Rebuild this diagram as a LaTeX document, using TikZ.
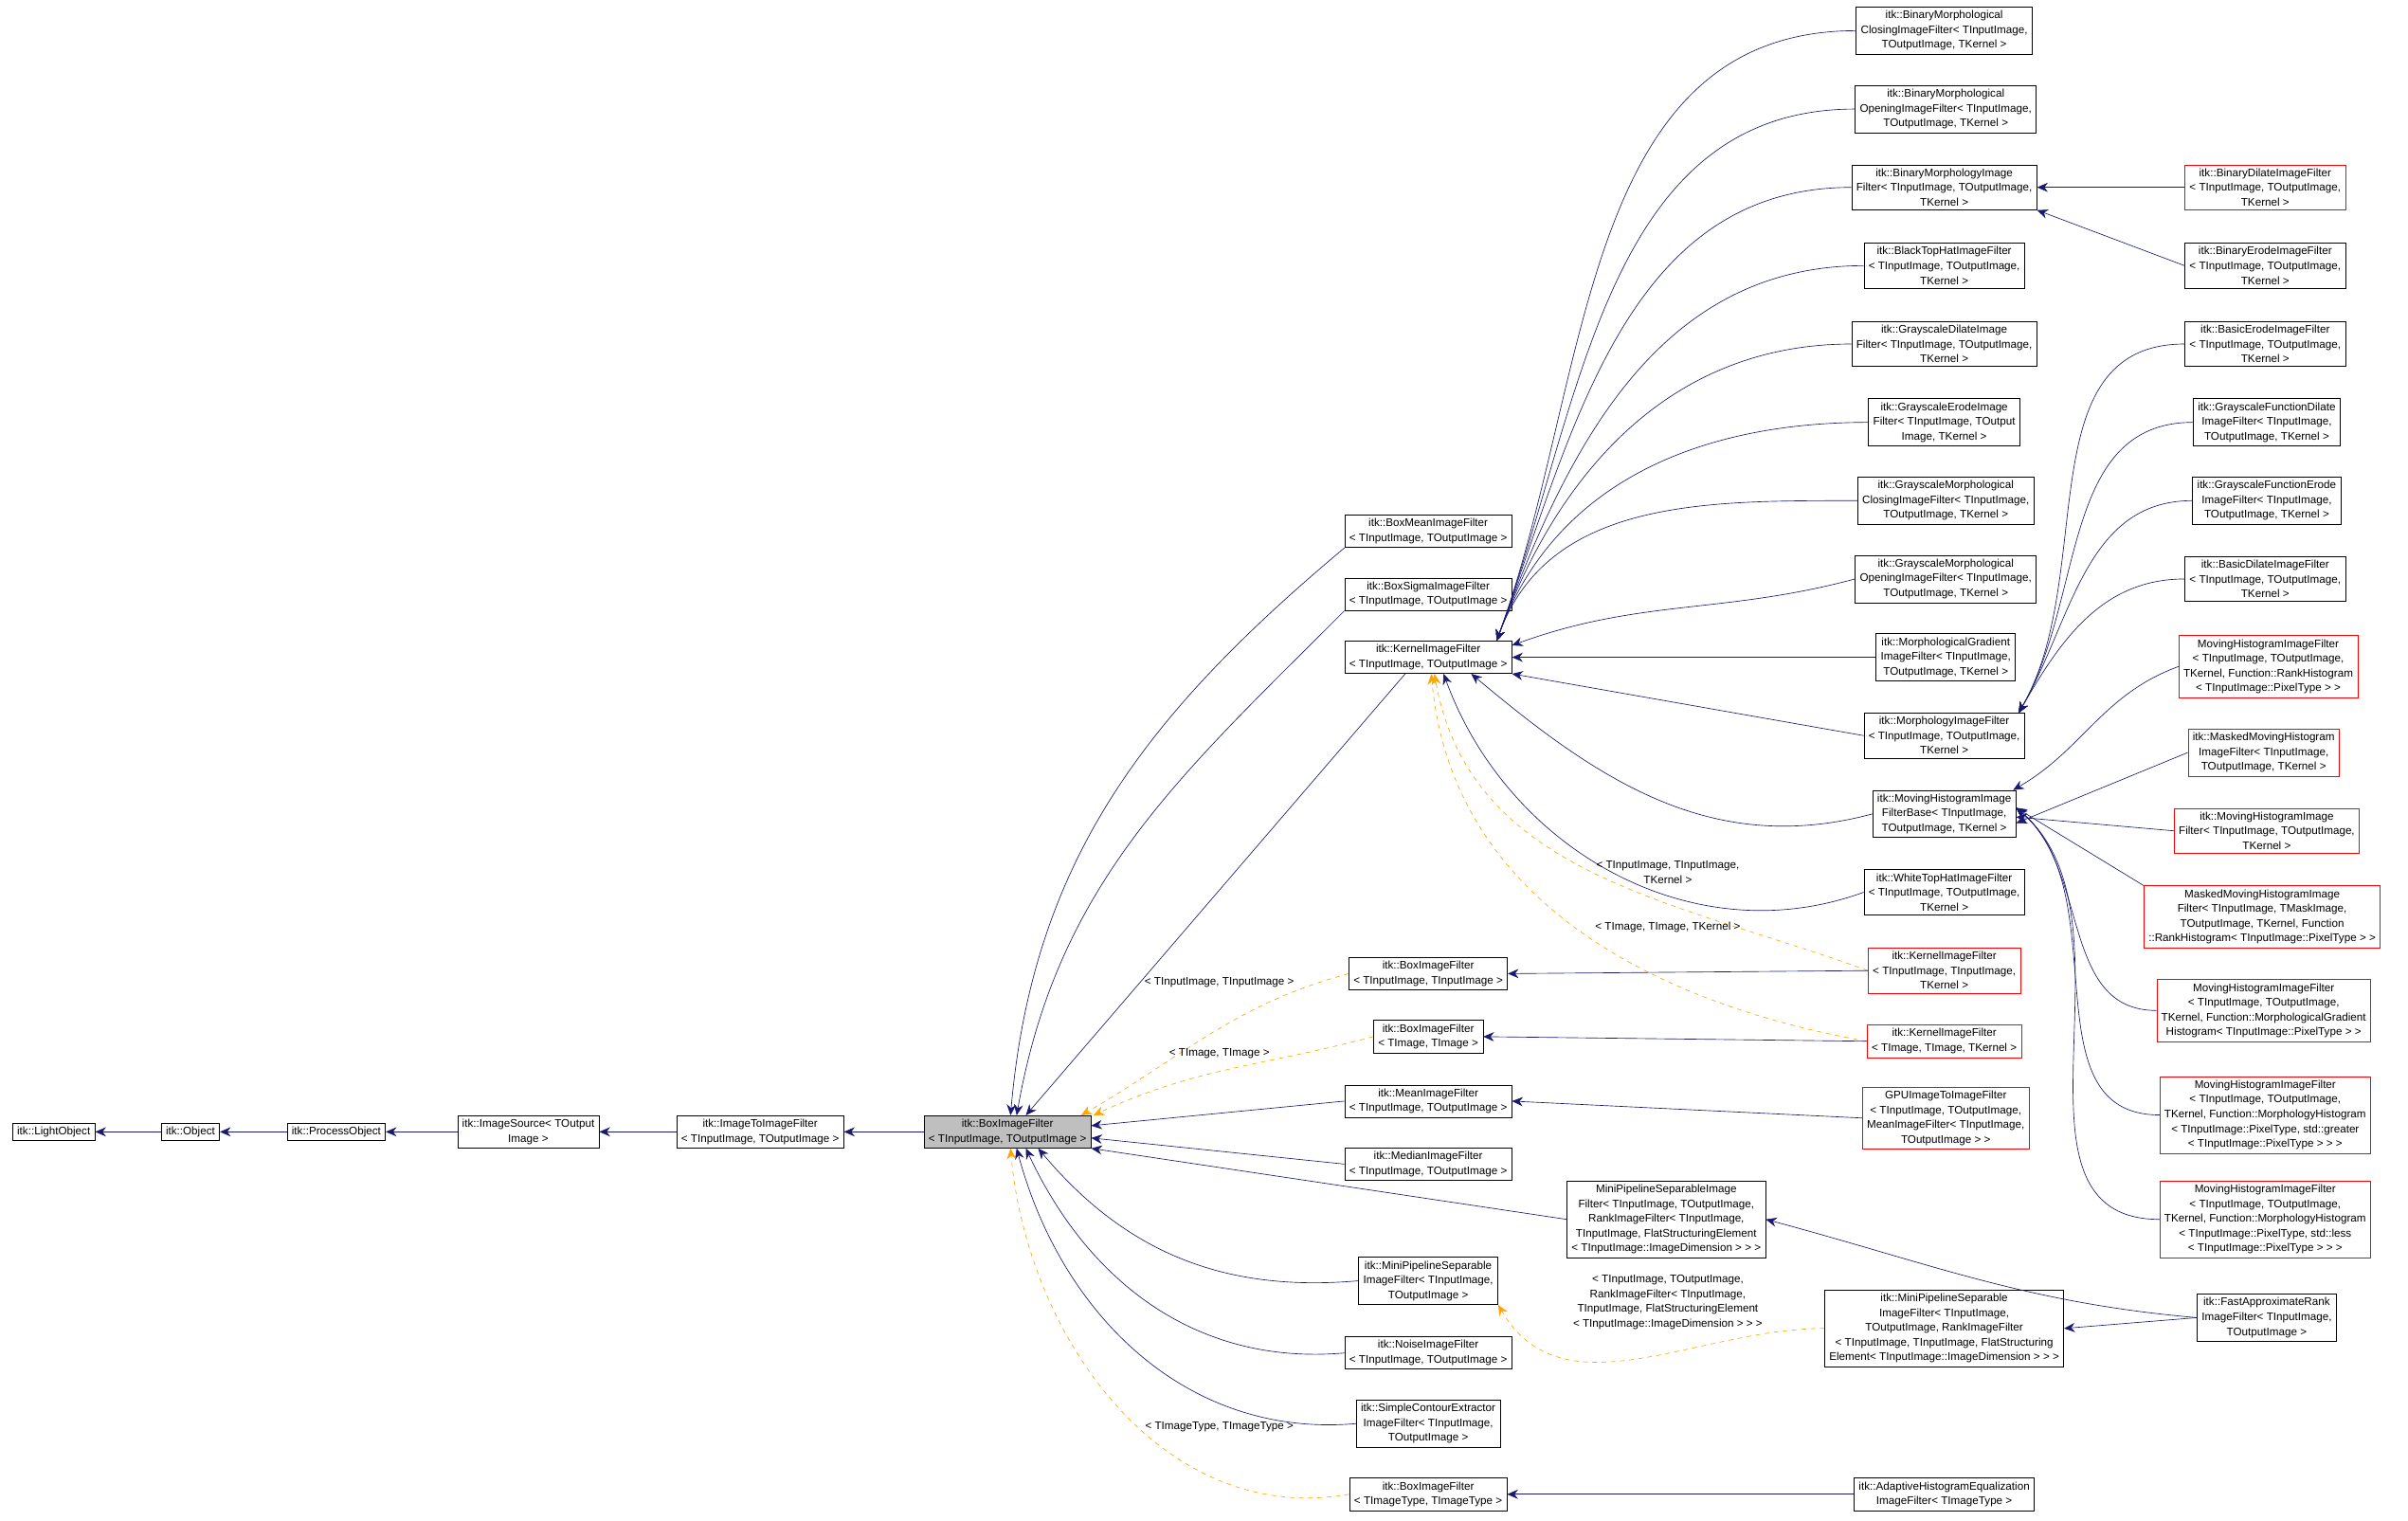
\documentclass[tikz,border=0pt]{standalone}
\usepackage{fontspec}
\setmainfont{Liberation Sans}
\usetikzlibrary{arrows.meta}
\definecolor{navy}{RGB}{25,25,112}
\definecolor{tplorange}{RGB}{255,165,0}
\definecolor{boxgray}{RGB}{191,191,191}

\tikzset{
  cls/.style={draw=black, fill=white, align=center, inner xsep=3pt, inner ysep=2.4pt,
    font=\fontsize{7.2}{9.6}\selectfont},
  extcls/.style={cls, draw=red},
  inh/.style={draw=navy, -{Stealth[length=7pt,width=6pt]}},
  tpl/.style={draw=tplorange, dashed, -{Stealth[length=7pt,width=6pt]}},
  tlabel/.style={font=\fontsize{7.2}{9.6}\selectfont, align=center}
}

\begin{document}
\begin{tikzpicture}[x=1pt,y=-1pt]
\useasboundingbox (0,0) rectangle (1568,990);

% Base chain
\node[cls] (light) at (35,737) {itk::LightObject};
\node[cls] (object) at (124,737) {itk::Object};
\node[cls] (process) at (219,737) {itk::ProcessObject};
\node[cls] (source) at (344,737) {itk::ImageSource\textless{} TOutput\\Image \textgreater};
\node[cls] (i2i) at (495,737) {itk::ImageToImageFilter\\\textless{} TInputImage, TOutputImage \textgreater};
\node[cls, fill=boxgray] (box) at (656,737) {itk::BoxImageFilter\\\textless{} TInputImage, TOutputImage \textgreater};

% Middle column
\node[cls] (boxmean) at (930,346) {itk::BoxMeanImageFilter\\\textless{} TInputImage, TOutputImage \textgreater};
\node[cls] (boxsigma) at (930,387) {itk::BoxSigmaImageFilter\\\textless{} TInputImage, TOutputImage \textgreater};
\node[cls] (kernel) at (930,428) {itk::KernelImageFilter\\\textless{} TInputImage, TOutputImage \textgreater};
\node[cls] (boxii) at (930,634) {itk::BoxImageFilter\\\textless{} TInputImage, TInputImage \textgreater};
\node[cls] (boxim) at (930,675) {itk::BoxImageFilter\\\textless{} TImage, TImage \textgreater};
\node[cls] (mean) at (930,717) {itk::MeanImageFilter\\\textless{} TInputImage, TOutputImage \textgreater};
\node[cls] (median) at (930,758) {itk::MedianImageFilter\\\textless{} TInputImage, TOutputImage \textgreater};
\node[cls] (minisep) at (930,834) {itk::MiniPipelineSeparable\\ImageFilter\textless{} TInputImage,\\TOutputImage \textgreater};
\node[cls] (noise) at (930,881) {itk::NoiseImageFilter\\\textless{} TInputImage, TOutputImage \textgreater};
\node[cls] (contour) at (930,927) {itk::SimpleContourExtractor\\ImageFilter\textless{} TInputImage,\\TOutputImage \textgreater};
\node[cls] (boxtt) at (930,973) {itk::BoxImageFilter\\\textless{} TImageType, TImageType \textgreater};

% Third column
\node[cls] (binclose) at (1266,20) {itk::BinaryMorphological\\ClosingImageFilter\textless{} TInputImage,\\TOutputImage, TKernel \textgreater};
\node[cls] (binopen) at (1267,71) {itk::BinaryMorphological\\OpeningImageFilter\textless{} TInputImage,\\TOutputImage, TKernel \textgreater};
\node[cls] (binmorph) at (1266,122) {itk::BinaryMorphologyImage\\Filter\textless{} TInputImage, TOutputImage,\\TKernel \textgreater};
\node[cls] (blacktop) at (1266,173) {itk::BlackTopHatImageFilter\\\textless{} TInputImage, TOutputImage,\\TKernel \textgreater};
\node[cls] (graydil) at (1266,224) {itk::GrayscaleDilateImage\\Filter\textless{} TInputImage, TOutputImage,\\TKernel \textgreater};
\node[cls] (grayero) at (1266,275) {itk::GrayscaleErodeImage\\Filter\textless{} TInputImage, TOutput\\Image, TKernel \textgreater};
\node[cls] (grayclose) at (1267,326) {itk::GrayscaleMorphological\\ClosingImageFilter\textless{} TInputImage,\\TOutputImage, TKernel \textgreater};
\node[cls] (grayopen) at (1267,377) {itk::GrayscaleMorphological\\OpeningImageFilter\textless{} TInputImage,\\TOutputImage, TKernel \textgreater};
\node[cls] (gradient) at (1267,428) {itk::MorphologicalGradient\\ImageFilter\textless{} TInputImage,\\TOutputImage, TKernel \textgreater};
\node[cls] (morph) at (1266,479) {itk::MorphologyImageFilter\\\textless{} TInputImage, TOutputImage,\\TKernel \textgreater};
\node[cls] (movbase) at (1266,530) {itk::MovingHistogramImage\\FilterBase\textless{} TInputImage,\\TOutputImage, TKernel \textgreater};
\node[cls] (whitetop) at (1266,581) {itk::WhiteTopHatImageFilter\\\textless{} TInputImage, TOutputImage,\\TKernel \textgreater};
\node[extcls] (kernelii) at (1266,632) {itk::KernelImageFilter\\\textless{} TInputImage, TInputImage,\\TKernel \textgreater};
\node[extcls] (kernelim) at (1266,678) {itk::KernelImageFilter\\\textless{} TImage, TImage, TKernel \textgreater};
\node[extcls] (gpu) at (1267,728) {GPUImageToImageFilter\\\textless{} TInputImage, TOutputImage,\\MeanImageFilter\textless{} TInputImage,\\TOutputImage \textgreater{} \textgreater};
\node[cls] (miniplain) at (1085,794) {MiniPipelineSeparableImage\\Filter\textless{} TInputImage, TOutputImage,\\RankImageFilter\textless{} TInputImage,\\TInputImage, FlatStructuringElement\\\textless{} TInputImage::ImageDimension \textgreater{} \textgreater{} \textgreater};
\node[cls] (minirank) at (1266,865) {itk::MiniPipelineSeparable\\ImageFilter\textless{} TInputImage,\\TOutputImage, RankImageFilter\\\textless{} TInputImage, TInputImage, FlatStructuring\\Element\textless{} TInputImage::ImageDimension \textgreater{} \textgreater{} \textgreater};
\node[cls] (adaptive) at (1266,973) {itk::AdaptiveHistogramEqualization\\ImageFilter\textless{} TImageType \textgreater};

% Right column
\node[extcls] (bindil) at (1475,122) {itk::BinaryDilateImageFilter\\\textless{} TInputImage, TOutputImage,\\TKernel \textgreater};
\node[cls] (binero) at (1475,173) {itk::BinaryErodeImageFilter\\\textless{} TInputImage, TOutputImage,\\TKernel \textgreater};
\node[cls] (basicero) at (1475,224) {itk::BasicErodeImageFilter\\\textless{} TInputImage, TOutputImage,\\TKernel \textgreater};
\node[cls] (funcdil) at (1476,275) {itk::GrayscaleFunctionDilate\\ImageFilter\textless{} TInputImage,\\TOutputImage, TKernel \textgreater};
\node[cls] (funcero) at (1476,326) {itk::GrayscaleFunctionErode\\ImageFilter\textless{} TInputImage,\\TOutputImage, TKernel \textgreater};
\node[cls] (basicdil) at (1475,377) {itk::BasicDilateImageFilter\\\textless{} TInputImage, TOutputImage,\\TKernel \textgreater};
\node[extcls] (movrank) at (1477,434) {MovingHistogramImageFilter\\\textless{} TInputImage, TOutputImage,\\TKernel, Function::RankHistogram\\\textless{} TInputImage::PixelType \textgreater{} \textgreater};
\node[extcls] (maskedmov) at (1474,490) {itk::MaskedMovingHistogram\\ImageFilter\textless{} TInputImage,\\TOutputImage, TKernel \textgreater};
\node[extcls] (movfilt) at (1476,541) {itk::MovingHistogramImage\\Filter\textless{} TInputImage, TOutputImage,\\TKernel \textgreater};
\node[extcls] (maskedrank) at (1473,597) {MaskedMovingHistogramImage\\Filter\textless{} TInputImage, TMaskImage,\\TOutputImage, TKernel, Function\\::RankHistogram\textless{} TInputImage::PixelType \textgreater{} \textgreater};
\node[extcls] (movgrad) at (1474,658) {MovingHistogramImageFilter\\\textless{} TInputImage, TOutputImage,\\TKernel, Function::MorphologicalGradient\\Histogram\textless{} TInputImage::PixelType \textgreater{} \textgreater};
\node[extcls] (movgreater) at (1475,726) {MovingHistogramImageFilter\\\textless{} TInputImage, TOutputImage,\\TKernel, Function::MorphologyHistogram\\\textless{} TInputImage::PixelType, std::greater\\\textless{} TInputImage::PixelType \textgreater{} \textgreater{} \textgreater};
\node[extcls] (movless) at (1475,794) {MovingHistogramImageFilter\\\textless{} TInputImage, TOutputImage,\\TKernel, Function::MorphologyHistogram\\\textless{} TInputImage::PixelType, std::less\\\textless{} TInputImage::PixelType \textgreater{} \textgreater{} \textgreater};
\node[cls] (fastrank) at (1476,858) {itk::FastApproximateRank\\ImageFilter\textless{} TInputImage,\\TOutputImage \textgreater};

% Base chain edges
\draw[inh] (object) -- (light);
\draw[inh] (process) -- (object);
\draw[inh] (source) -- (process);
\draw[inh] (i2i) -- (source);
\draw[inh] (box) -- (i2i);

% Edges into BoxImageFilter
\draw[inh] (boxmean.south west) to[out=220,in=85] ([xshift=2]box.north);
\draw[inh] (boxsigma.south west) to[out=225,in=80] ([xshift=6]box.north);
\draw[inh] ([xshift=-15]kernel.south) -- ([xshift=12]box.north);
\draw[tpl] (boxii.west) to[out=195,in=30] ([xshift=48]box.north);
\draw[tpl] (boxim.west) to[out=195,in=25] ([xshift=56]box.north);
\draw[inh] (mean.west) -- ([yshift=4]box.east);
\draw[inh] (median.west) -- ([yshift=-4]box.east);
\draw[inh] (miniplain.west) -- (box.south east);
\draw[inh] (minisep.west) to[out=185,in=-50] ([xshift=20]box.south);
\draw[inh] (noise.west) to[out=185,in=-65] ([xshift=12]box.south);
\draw[inh] (contour.west) to[out=185,in=-75] ([xshift=6]box.south);
\draw[tpl] (boxtt.west) to[out=190,in=-85] ([xshift=2]box.south);
\node[tlabel] (lblii) at (794,640) {\textless{} TInputImage, TInputImage \textgreater};
\node[tlabel] (lblim) at (794,686) {\textless{} TImage, TImage \textgreater};
\node[tlabel] (lbltt) at (794,929) {\textless{} TImageType, TImageType \textgreater};

% Edges into KernelImageFilter
\foreach \c in {binclose,binopen,binmorph,blacktop,graydil,grayero,grayclose}
  \draw[inh] (\c.west) to[out=180,in=70] ([xshift=-10]kernel.north east);
\draw[inh] (grayopen.west) to[out=195,in=20] ([yshift=-3]kernel.north east);
\draw[inh] (gradient.west) -- (kernel.east);
\draw[inh] (morph.west) -- (kernel.south east);
\draw[inh] (movbase.west) to[out=195,in=-40] ([xshift=28]kernel.south);
\draw[inh] (whitetop.west) to[out=200,in=-70] ([xshift=10]kernel.south);
\draw[tpl] (kernelii.west) to[out=160,in=-80] ([xshift=4]kernel.south);
\draw[tpl] (kernelim.west) to[out=170,in=-85] ([xshift=2]kernel.south);
\node[tlabel] (lblkii) at (1086,568) {\textless{} TInputImage, TInputImage,\\TKernel \textgreater};
\node[tlabel] (lblkim) at (1086,604) {\textless{} TImage, TImage, TKernel \textgreater};

% Right-hand edges
\draw[inh] (bindil.west) -- (binmorph.east);
\draw[inh] (binero.west) -- (binmorph.south east);
\foreach \c in {basicero,funcdil,funcero,basicdil}
  \draw[inh] (\c.west) to[out=180,in=60] ([xshift=-4]morph.north east);
\draw[inh] (movrank.west) to[out=200,in=30] ([xshift=-2]movbase.north east);
\draw[inh] (maskedmov.west) -- ([yshift=-6]movbase.east);
\draw[inh] (movfilt.west) -- ([yshift=-2]movbase.east);
\draw[inh] (maskedrank.north west) -- ([yshift=4]movbase.east);
\foreach \c in {movgrad,movgreater,movless}
  \draw[inh] (\c.west) to[out=180,in=-40] ([yshift=4]movbase.east);

% Lower edges
\draw[inh] (kernelii.west) -- (boxii.east);
\draw[inh] (kernelim.west) -- (boxim.east);
\draw[inh] (gpu.west) -- (mean.east);
\draw[inh] (fastrank.west) to[out=175,in=-15] (miniplain.east);
\draw[inh] (fastrank.west) -- (minirank.east);
\draw[tpl] (minirank.west) to[out=180,in=-60] (minisep.south east);
\node[tlabel] (lblrank) at (1086,848) {\textless{} TInputImage, TOutputImage,\\RankImageFilter\textless{} TInputImage,\\TInputImage, FlatStructuringElement\\\textless{} TInputImage::ImageDimension \textgreater{} \textgreater{} \textgreater};
\draw[inh] (adaptive.west) -- (boxtt.east);
\end{tikzpicture}
\end{document}
